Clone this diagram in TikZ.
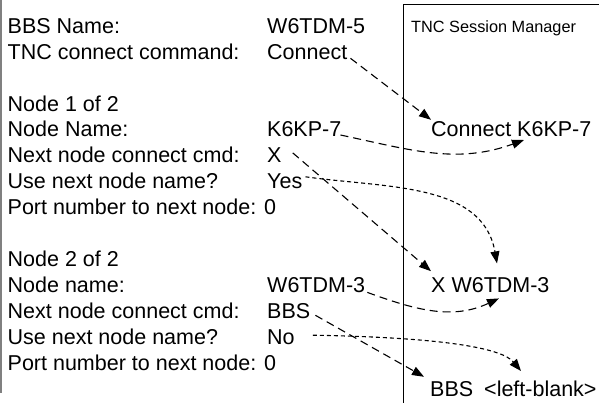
\documentclass[tikz,border=0pt]{standalone}
\usepackage{fontspec}
\setmainfont{Liberation Sans}
\usetikzlibrary{arrows.meta}
\begin{document}
\begin{tikzpicture}[x=1pt,y=1pt,
  lbl/.style={anchor=base west, inner sep=0pt, font=\fontsize{21.5pt}{25pt}\selectfont},
  ttl/.style={anchor=base west, inner sep=0pt, font=\fontsize{16.3pt}{19pt}\selectfont},
  longdash/.style={line width=1.1pt, dash pattern=on 8pt off 5pt, -{Triangle[length=12pt,width=9pt]}},
  shortdash/.style={line width=1.1pt, dash pattern=on 4pt off 3pt, -{Triangle[length=12pt,width=9pt]}},
  frame/.style={line width=1pt},
  leftrule/.style={gray, line width=1.5pt}
]
\useasboundingbox (0,0) rectangle (599,-403);
% frames
\draw[leftrule] (1,0) -- (1,-393);
\draw[frame] (403.5,-403) -- (403.5,-4.5) -- (600,-4.5);
\node[ttl] (title) at (411,-33) {TNC Session Manager};
% left labels
\node[lbl] (l0) at (7.5,-33.4) {BBS Name:};
\node[lbl] (l1) at (7.5,-59.3) {TNC connect command:};
\node[lbl] (l3) at (7.5,-111.1) {Node 1 of 2};
\node[lbl] (l4) at (7.5,-137) {Node Name:};
\node[lbl] (l5) at (7.5,-162.9) {Next node connect cmd:};
\node[lbl] (l6) at (7.5,-188.8) {Use next node name?};
\node[lbl] (l7) at (7.5,-214.7) {Port number to next node: 0};
\node[lbl] (l9) at (7.5,-266.5) {Node 2 of 2};
\node[lbl] (l10) at (7.5,-292.4) {Node name:};
\node[lbl] (l11) at (7.5,-318.3) {Next node connect cmd:};
\node[lbl] (l12) at (7.5,-344.2) {Use next node name?};
\node[lbl] (l13) at (7.5,-370.1) {Port number to next node: 0};
% values
\node[lbl] (v0) at (267,-33.4) {W6TDM-5};
\node[lbl] (v1) at (267,-59.3) {Connect};
\node[lbl] (v4) at (267,-137) {K6KP-7};
\node[lbl] (v5) at (267,-162.9) {X};
\node[lbl] (v6) at (267,-188.8) {Yes};
\node[lbl] (v10) at (267,-292.4) {W6TDM-3};
\node[lbl] (v11) at (267,-318.3) {BBS};
\node[lbl] (v12) at (267,-344.2) {No};
% right column
\node[lbl] (rC) at (431,-137) {Connect K6KP-7};
\node[lbl] (rX) at (431,-292.4) {X W6TDM-3};
\node[lbl] (rBBS) at (430,-396) {BBS};
\node[lbl] (rBlank) at (484,-396) {<left-blank>};
% connectors
\draw[longdash] ([xshift=3pt,yshift=1pt]v1.base east) -- ([yshift=2pt]rC.north west);
\draw[longdash] ([xshift=-1pt,yshift=2pt]v4.base east) to[out=-12,in=200] ([xshift=93pt,yshift=-3pt]rC.base west);
\draw[longdash] ([xshift=11pt,yshift=10pt]v5.base east) -- ([yshift=6pt]rX.north west);
\draw[shortdash] ([xshift=3pt,yshift=12pt]v6.base east) to[out=-8,in=100] ([xshift=66pt,yshift=29pt]rX.base west);
\draw[longdash] ([xshift=2pt]v10.base east) to[out=-20,in=205] ([xshift=68pt,yshift=-6pt]rX.base west);
\draw[longdash] ([xshift=5pt,yshift=3pt]v11.base east) -- ([xshift=-6pt,yshift=4pt]rBBS.north west);
\draw[shortdash] ([xshift=18pt,yshift=9pt]v12.base east) .. controls +(-1:130) and +(130:30) .. ([xshift=37pt,yshift=25pt]rBlank.base west);
\end{tikzpicture}
\end{document}
